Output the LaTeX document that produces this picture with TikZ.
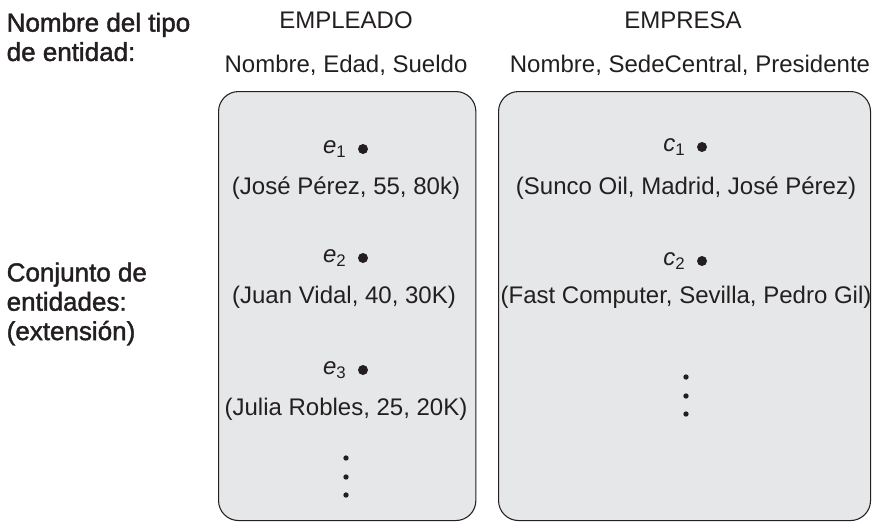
\documentclass[tikz,border=0pt]{standalone}
\usepackage{fontspec}
\setmainfont{Liberation Sans}
\newfontfamily\medio[FakeBold=1.6]{Liberation Sans}
\usetikzlibrary{positioning}
\definecolor{gris}{HTML}{E6E7E8}
\definecolor{tinta}{HTML}{231F20}
\tikzset{
  conjunto/.style={draw=tinta, fill=gris, rounded corners=15pt, line width=0.8pt, anchor=north west},
  punto/.style={circle, fill=tinta, inner sep=0pt, minimum size=7.5pt},
  puntito/.style={circle, fill=tinta, inner sep=0pt, minimum size=4pt},
  rotulo/.style={font=\fontsize{19.5}{22}\selectfont\medio, align=left, anchor=west}
}
\newcommand{\inst}[2]{\textit{#1}\textsubscript{#2}}
\begin{document}
\begin{tikzpicture}[x=0.75pt,y=-0.75pt]\tikzstyle{every node}=[font=\fontsize{18}{22}\selectfont, text=tinta]
\useasboundingbox (0,0) rectangle (872,522);
% rotulos de la izquierda
  \node[rotulo] (tipo) at (2,37) {Nombre del tipo\\de entidad:};
  \node[rotulo] (conj) at (2,304) {Conjunto de\\entidades:\\(extensión)};
% EMPLEADO
  \node (empleado) at (346,20) {EMPLEADO};
  \node (atremp) at (346,65) {Nombre, Edad, Sueldo};
  \node[conjunto, minimum width=193pt, minimum height=321.75pt] (cjemp) at (218,91) {};
  \node[punto] (e1) at (363,149) {};
  \node[left=5pt of e1] {\inst{e}{1}};
  \node (v1) at (346,188) {(José Pérez, 55, 80k)};
  \node[punto] (e2) at (363,258) {};
  \node[left=5pt of e2] {\inst{e}{2}};
  \node (v2) at (344,297) {(Juan Vidal, 40, 30K)};
  \node[punto] (e3) at (363,370) {};
  \node[left=5pt of e3] {\inst{e}{3}};
  \node (v3) at (346,409) {(Julia Robles, 25, 20K)};
  \foreach \y in {458,477,495}
    \node[puntito] at (346,\y) {};
% EMPRESA
  \node (empresa) at (683,20) {EMPRESA};
  \node (atrcia) at (690,65) {Nombre, SedeCentral, Presidente};
  \node[conjunto, minimum width=279pt, minimum height=321.75pt] (cjcia) at (498,91) {};
  \node[punto] (c1) at (702,147) {};
  \node[left=5pt of c1] {\inst{c}{1}};
  \node (w1) at (686,188) {(Sunco Oil, Madrid, José Pérez)};
  \node[punto] (c2) at (702,261) {};
  \node[left=5pt of c2] {\inst{c}{2}};
  \node (w2) at (686,297) {(Fast Computer, Sevilla, Pedro Gil)};
  \foreach \y in {377,396,414}
    \node[puntito] at (686,\y) {};
\end{tikzpicture}
\end{document}
